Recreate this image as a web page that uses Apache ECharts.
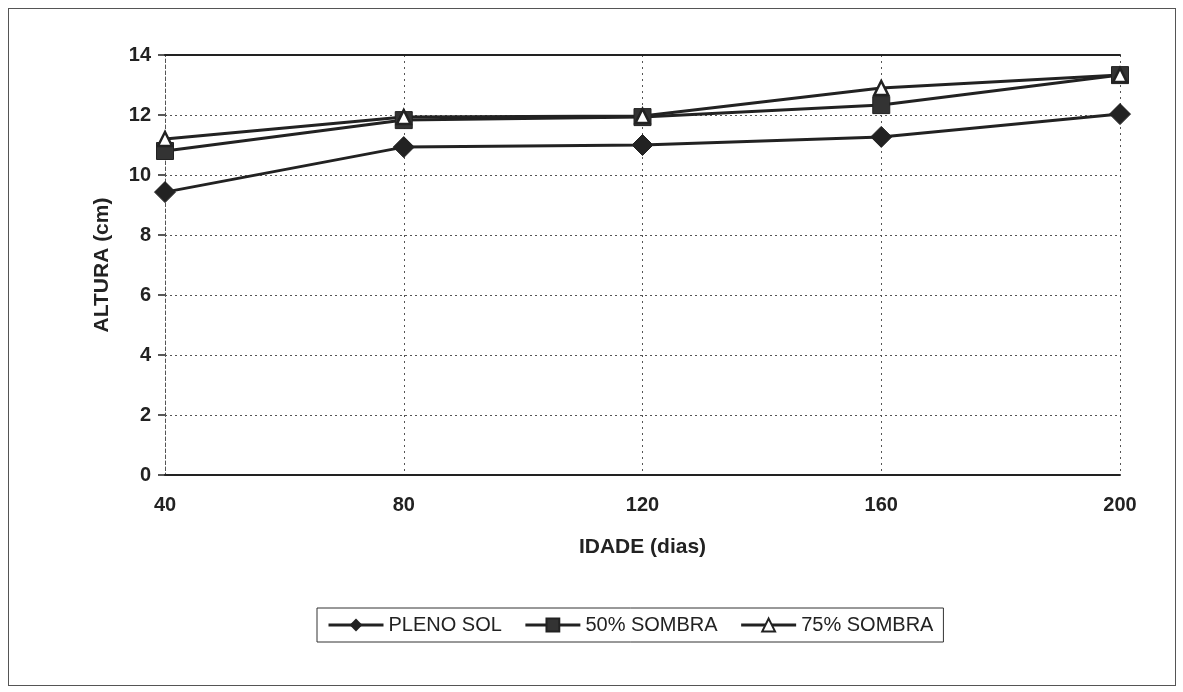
<!DOCTYPE html>
<html>
<head>
<meta charset="utf-8">
<script src="https://cdn.jsdelivr.net/npm/echarts@6/dist/echarts.min.js"></script>
<style>
  html, body { margin: 0; padding: 0; background: #fff; }
  #main { width: 1183px; height: 692px; }
  .frame { position: absolute; left: 8px; top: 8px; width: 1166px; height: 676px; border: 1px solid #555; pointer-events: none; }
</style>
</head>
<body>
<div id="main"></div>
<div class="frame"></div>
<script>
// idade (dias)
const idade = [40, 80, 120, 160, 200]
// altura (cm)
const plenoSol = [9.43, 10.93, 11.0, 11.27, 12.03]
const sombra50 = [10.8, 11.83, 11.93, 12.33, 13.33]
const sombra75 = [11.2, 11.93, 11.97, 12.9, 13.33]

const ink = '#222'
const font = 'Liberation Sans, Arial, sans-serif'

function pts(vals) {
  return idade.map((x, i) => [x, vals[i]])
}

let myChart = echarts.init(document.getElementById('main'))
myChart.setOption({
  animation: false,
  grid: { left: 165, right: 63, top: 55, bottom: 217 },
  legend: {
    left: 317,
    top: 608,
    itemWidth: 55,
    itemHeight: 16,
    itemGap: 22,
    padding: [7, 10],
    borderColor: '#333',
    borderWidth: 1,
    lineStyle: { width: 3 },
    textStyle: { fontFamily: font, fontSize: 20, color: ink },
    data: ['PLENO SOL', '50% SOMBRA', '75% SOMBRA']
  },
  xAxis: [
    {
      type: 'value',
      min: 40,
      max: 200,
      interval: 40,
      name: 'IDADE (dias)',
      nameLocation: 'middle',
      nameGap: 62,
      nameTextStyle: { fontFamily: font, fontSize: 21, fontWeight: 'bold', color: ink },
      axisLine: { show: true, lineStyle: { color: ink, width: 2 } },
      axisTick: { show: false },
      axisLabel: { margin: 20, fontFamily: font, fontSize: 20, fontWeight: 'bold', color: ink },
      splitLine: { show: true, lineStyle: { color: '#555', type: [2, 4], width: 1 } }
    },
    {
      type: 'value',
      position: 'top',
      min: 40,
      max: 200,
      interval: 40,
      axisLine: { show: true, lineStyle: { color: ink, width: 2 } },
      axisTick: { show: false },
      axisLabel: { show: false },
      splitLine: { show: false }
    }
  ],
  yAxis: {
    type: 'value',
    min: 0,
    max: 14,
    interval: 2,
    name: 'ALTURA (cm)',
    nameLocation: 'middle',
    nameGap: 52,
    nameTextStyle: { fontFamily: font, fontSize: 21, fontWeight: 'bold', color: ink },
    axisLine: { show: true, lineStyle: { color: '#555', type: [2, 4], width: 1 } },
    axisTick: { show: true, length: 7, lineStyle: { color: ink, width: 1.5 } },
    axisLabel: { margin: 14, fontFamily: font, fontSize: 20, fontWeight: 'bold', color: ink },
    splitLine: { show: true, lineStyle: { color: '#555', type: [2, 3], width: 1 } }
  },
  series: [
    {
      name: 'PLENO SOL',
      type: 'line',
      data: pts(plenoSol),
      symbol: 'diamond',
      symbolSize: [21, 21],
      lineStyle: { color: ink, width: 3 },
      itemStyle: { color: ink, borderColor: ink }
    },
    {
      name: '50% SOMBRA',
      type: 'line',
      data: pts(sombra50),
      symbol: 'rect',
      symbolSize: 17,
      lineStyle: { color: ink, width: 3 },
      itemStyle: { color: '#333', borderColor: ink, borderWidth: 1 }
    },
    {
      name: '75% SOMBRA',
      type: 'line',
      data: pts(sombra75),
      symbol: 'triangle',
      symbolSize: 14,
      lineStyle: { color: ink, width: 3 },
      itemStyle: { color: '#fff', borderColor: ink, borderWidth: 2.5 }
    }
  ]
})
</script>
</body>
</html>
